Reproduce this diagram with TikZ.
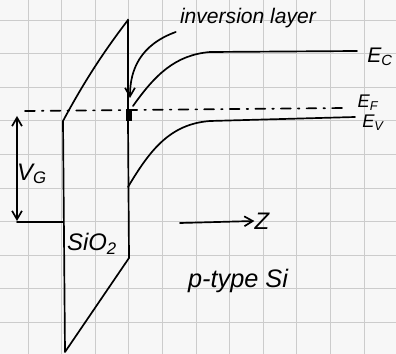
\documentclass[tikz,border=0pt]{standalone}
\usepackage{fontspec}
\setsansfont{Liberation Sans}
\usetikzlibrary{arrows.meta}
\tikzset{
  pen/.style={line width=1.2pt, line cap=round, line join=round},
  gridline/.style={black!20, line width=0.6pt},
  hand/.style={font=\sffamily\itshape\fontsize{15}{18}\selectfont, inner sep=0pt},
  big/.style={hand, font=\sffamily\itshape\fontsize{17}{20}\selectfont},
  >={Straight Barb[length=6pt,width=7pt]}
}
\begin{document}
\begin{tikzpicture}[x=0.025cm,y=-0.025cm]
            \useasboundingbox[fill=black!3] (0,0) rectangle (396,354);
            % Graph paper
            \foreach \i in {0,...,10}
              \draw[gridline] (28+33.6*\i,0) -- (28+33.6*\i,354);
            \foreach \j in {0,...,9}
              \draw[gridline] (0,20+33.6*\j) -- (396,20+33.6*\j);
            % Oxide
            \draw[pen] (63,121) .. controls (85,80) and (105,50) .. (128,20);
            \draw[pen, line width=2pt] (128,20) -- (128,121);
            \draw[pen] (128,121) -- (129,258) -- (65,352) -- (63,121);
            \fill (126,109) rectangle (132,121);
            % Bands
            \draw[pen] (133,106) .. controls (155,75) and (175,55) .. (210,52) -- (357,51);
            \draw[pen] (128,187) .. controls (150,150) and (170,124) .. (210,121) -- (355,117);
            \draw[pen, dash pattern=on 7pt off 5pt on 1.2pt off 5pt] (25,111) -- (345,108);
            % Labels
            \node[hand] (inv) at (248,18) {inversion layer};
            \node[hand] (ec) at (380,57) {E\textsubscript{C}};
            \node[hand, font=\sffamily\itshape\fontsize{13}{16}\selectfont] (ef) at (368,103) {E\textsubscript{F}};
            \node[hand, font=\sffamily\itshape\fontsize{13}{16}\selectfont] (ev) at (373,123) {E\textsubscript{V}};
            \node[big] (vg) at (32,174) {V\textsubscript{G}};
            \node[big] (oxide) at (92,244) {SiO\textsubscript{2}};
            \node[big] (z) at (262,221) {Z};
            \node[big, font=\sffamily\itshape\fontsize{18}{22}\selectfont] (si) at (238,281) {p-type Si};
            % Arrows
            \coordinate (layer) at (130,98);
            \draw[pen, ->] (inv.west) ++(-4,14) .. controls (140,45) and (130,70) .. (layer);
            \draw[pen, <->] (17,116) -- (17,221);
            \draw[pen] (17,222) -- (63,222);
            \draw[pen, ->] (180,223) -- (z.west);
\end{tikzpicture}
\end{document}
